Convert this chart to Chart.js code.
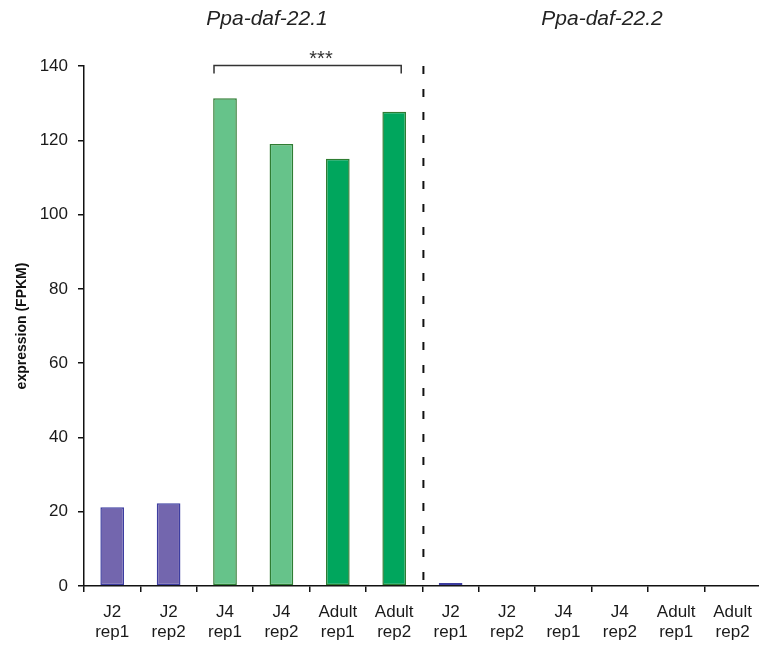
<!DOCTYPE html>
<html>
<head>
<meta charset="utf-8">
<script src="https://cdn.jsdelivr.net/npm/chart.js@4/dist/chart.umd.min.js"></script>
<style>
  html, body { margin: 0; padding: 0; background: #fff; overflow: hidden; }
  #wrap { width: 759px; height: 650px; overflow: hidden; }
</style>
</head>
<body>
<div id="wrap"><canvas id="c" width="762" height="650"></canvas></div>
<script>
// Sample labels (two lines each), two genes side by side
const categories = [
  ["J2", "rep1"], ["J2", "rep2"], ["J4", "rep1"], ["J4", "rep2"], ["Adult", "rep1"], ["Adult", "rep2"],
  ["J2", "rep1"], ["J2", "rep2"], ["J4", "rep1"], ["J4", "rep2"], ["Adult", "rep1"], ["Adult", "rep2"]
];
const geneNames = ["Ppa-daf-22.1", "Ppa-daf-22.2"];
// Expression (FPKM) per sample
const expression = [21.2, 22.3, 131.3, 119.0, 115.0, 127.7, 0.8, 0, 0, 0, 0, 0];
const yTicks = [0, 20, 40, 60, 80, 100, 120, 140];
const significance = "***";

const stageFill = { J2: "#7366ae", J4: "#66c38a", Adult: "#00a65d" };
const stageLine = { J2: "#3d3da0", J4: "#2f7d33", Adult: "#2e7d32" };

const overlay = {
  id: "overlay",
  afterDraw(chart) {
    const { ctx, chartArea, scales } = chart;
    const x = scales.x, y = scales.y;
    ctx.save();
    // gene titles
    ctx.fillStyle = "#222";
    ctx.font = "italic 21px 'Liberation Sans', Arial, sans-serif";
    ctx.textAlign = "center";
    ctx.textBaseline = "middle";
    ctx.fillText(geneNames[0], 267, 19);
    ctx.fillText(geneNames[1], 602, 19);

    // dashed separator between the two genes
    const sepX = (x.getPixelForValue(5) + x.getPixelForValue(6)) / 2 + 1;
    ctx.strokeStyle = "#111";
    ctx.lineWidth = 2;
    ctx.setLineDash([8, 15]);
    ctx.beginPath();
    ctx.moveTo(sepX, chartArea.top);
    ctx.lineTo(sepX, chartArea.bottom);
    ctx.stroke();
    ctx.setLineDash([]);

    // significance bracket over J4 rep1 .. Adult rep2
    const bx0 = x.getPixelForValue(2) - 11;
    const bx1 = x.getPixelForValue(5) + 7;
    const by = y.getPixelForValue(140) - 0.5;
    ctx.strokeStyle = "#333";
    ctx.lineWidth = 1.5;
    ctx.beginPath();
    ctx.moveTo(bx0, by + 8);
    ctx.lineTo(bx0, by);
    ctx.lineTo(bx1, by);
    ctx.lineTo(bx1, by + 8);
    ctx.stroke();
    ctx.fillStyle = "#333";
    ctx.font = "20px 'Liberation Sans', Arial, sans-serif";
    ctx.fillText(significance, 321, 59);
    ctx.restore();
  }
};

new Chart(document.getElementById("c"), {
  type: "bar",
  data: {
    labels: categories,
    datasets: [{
      data: expression,
      backgroundColor: categories.map(c => stageFill[c[0]]),
      borderColor: categories.map(c => stageLine[c[0]]),
      borderWidth: 1.5,
      borderSkipped: false,
      categoryPercentage: 1,
      barPercentage: 0.42
    }]
  },
  options: {
    responsive: false,
    animation: false,
    devicePixelRatio: 1,
    layout: { padding: { top: 66, right: 0, left: 0, bottom: 0 } },
    plugins: { legend: { display: false }, tooltip: { enabled: false } },
    scales: {
      x: {
        offset: true,
        grid: { offset: true, drawOnChartArea: false, drawTicks: true, tickLength: 6, color: "#111", lineWidth: 1.5 },
        border: { color: "#111", width: 1.5 },
        ticks: {
          color: "#1a1a1a",
          padding: 10,
          maxRotation: 0,
          autoSkip: false,
          font: { family: "'Liberation Sans', Arial, sans-serif", size: 17, lineHeight: 1.2 }
        },
        afterFit(scale) { scale.height = 64; }
      },
      y: {
        min: 0,
        max: 140,
        afterBuildTicks(scale) { scale.ticks = yTicks.map(v => ({ value: v })); },
        grid: { drawOnChartArea: false, drawTicks: true, tickLength: 6, color: "#111", lineWidth: 1.5 },
        border: { color: "#111", width: 1.5 },
        ticks: {
          color: "#1a1a1a",
          padding: 10,
          font: { family: "'Liberation Sans', Arial, sans-serif", size: 17 }
        },
        title: {
          display: true,
          text: "expression (FPKM)",
          color: "#111",
          padding: { top: 14, bottom: 0 },
          font: { family: "'Liberation Sans', Arial, sans-serif", size: 14, weight: "bold" }
        },
        afterFit(scale) { scale.width = 84; }
      }
    }
  },
  plugins: [overlay]
});
</script>
</body>
</html>
